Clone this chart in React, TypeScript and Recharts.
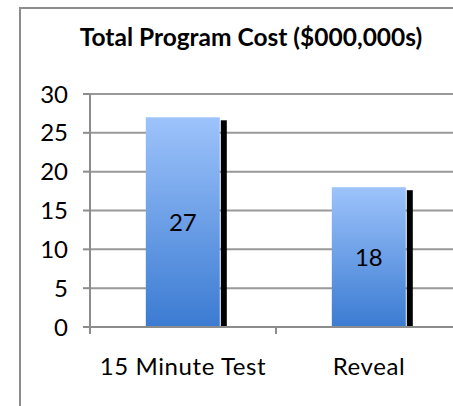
import React from "react";
import { BarChart, Bar, XAxis, YAxis, CartesianGrid, LabelList } from "recharts";

const categories = ["15 Minute Test", "Reveal"];
const costs = [27, 18];
const yTicks = [0, 5, 10, 15, 20, 25, 30];

const data = categories.map((name, i) => ({ name, cost: costs[i] }));

const FONT = "Lato, 'Open Sans', sans-serif";
const AXIS_GRAY = "#8c8c8c";
const GRID_GRAY = "#999999";

/* chart box: plot area spans x 90..462, y 94..327 */
const W = 480;
const H = 420;
const MARGIN = { top: 94, right: 18, bottom: 53, left: 30 };
const Y_AXIS_W = 60;
const HALF_BAND = (W - MARGIN.left - MARGIN.right - Y_AXIS_W) / categories.length / 2;

function ShadowBar(props: any) {
  const { x, y, width, height } = props;
  if (!height || height <= 0) return null;
  return (
    <g>
      <rect x={x + width + 1} y={y + 3} width={6} height={height - 3} fill="#000" />
      <rect x={x} y={y} width={width} height={height} fill="url(#barGrad)" />
    </g>
  );
}

function CategoryTick(props: any) {
  const { x, y, payload } = props;
  return (
    <g>
      <line x1={x - HALF_BAND} y1={y - 8} x2={x - HALF_BAND} y2={y - 1} stroke={AXIS_GRAY} strokeWidth={2} />
      <line x1={x + HALF_BAND} y1={y - 8} x2={x + HALF_BAND} y2={y - 1} stroke={AXIS_GRAY} strokeWidth={2} />
      <text x={x} y={375} textAnchor="middle" fontFamily={FONT} fontSize={24} letterSpacing={0.6} fill="#000">
        {payload.value}
      </text>
    </g>
  );
}

export default function App() {
  return (
    <div
      style={{
        position: "fixed",
        left: 0,
        top: 0,
        width: 453,
        height: 406,
        overflow: "hidden",
        background: "#fff",
      }}
    >
      <div
        style={{
          position: "absolute",
          left: 19,
          top: 7,
          width: 480,
          height: 440,
          border: `2px solid ${AXIS_GRAY}`,
        }}
      />
      <div
        style={{
          position: "absolute",
          left: 0,
          top: 22,
          width: 502,
          textAlign: "center",
          fontFamily: FONT,
          fontWeight: 700,
          fontSize: 24.5,
          lineHeight: "29px",
          color: "#000",
        }}
      >
        Total Program Cost ($000,000s)
      </div>
      <div style={{ position: "absolute", left: 0, top: 0 }}>
        <BarChart width={W} height={H} data={data} margin={MARGIN} barCategoryGap="30%">
          <defs>
            <linearGradient id="barGrad" x1="0" y1="0" x2="0" y2="1">
              <stop offset="0%" stopColor="#9dc3fb" />
              <stop offset="100%" stopColor="#3b7bd2" />
            </linearGradient>
          </defs>
          <CartesianGrid vertical={false} stroke={GRID_GRAY} strokeWidth={2} />
          <XAxis
            dataKey="name"
            axisLine={{ stroke: AXIS_GRAY, strokeWidth: 2 }}
            tickLine={false}
            tick={<CategoryTick />}
            height={40}
            interval={0}
          />
          <YAxis
            domain={[0, 30]}
            ticks={yTicks}
            width={Y_AXIS_W}
            axisLine={{ stroke: AXIS_GRAY, strokeWidth: 2 }}
            tickLine={{ stroke: AXIS_GRAY, strokeWidth: 2 }}
            tickSize={7}
            tickMargin={15}
            tick={{ fontFamily: FONT, fontSize: 24, fill: "#000" }}
          />
          <Bar dataKey="cost" shape={<ShadowBar />} isAnimationActive={false}>
            <LabelList dataKey="cost" position="center" fill="#000" fontFamily={FONT} fontSize={24} />
          </Bar>
        </BarChart>
      </div>
    </div>
  );
}
